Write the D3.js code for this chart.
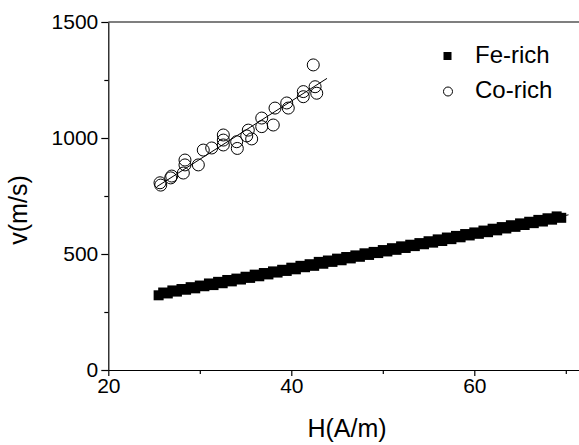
<!DOCTYPE html>
<html>
<head>
<meta charset="utf-8">
<script src="https://cdn.jsdelivr.net/npm/d3@7"></script>
<style>
  body { margin: 0; background: #fff; }
  text { font-family: "Liberation Sans", Arial, sans-serif; fill: #000; }
</style>
</head>
<body>
<div id="chart"></div>
<script>
// Fe-rich samples (H in A/m, v in m/s)
var feH = [25.5, 26.0, 26.5, 27.0, 27.5, 28.0, 28.5, 29.0, 29.5, 30.0,
           30.5, 31.0, 31.5, 32.0, 32.5, 33.0, 33.5, 34.0, 34.5, 35.0,
           35.5, 36.0, 36.5, 37.0, 37.5, 38.0, 38.5, 39.0, 39.5, 40.0,
           40.5, 41.0, 41.5, 42.0, 42.5, 43.0, 43.5, 44.0, 44.5, 45.0,
           45.5, 46.0, 46.5, 47.0, 47.5, 48.0, 48.5, 49.0, 49.5, 50.0,
           50.5, 51.0, 51.5, 52.0, 52.5, 53.0, 53.5, 54.0, 54.5, 55.0,
           55.5, 56.0, 56.5, 57.0, 57.5, 58.0, 58.5, 59.0, 59.5, 60.0,
           60.5, 61.0, 61.5, 62.0, 62.5, 63.0, 63.5, 64.0, 64.5, 65.0,
           65.5, 66.0, 66.5, 67.0, 67.5, 68.0, 68.5, 69.0, 69.5];
var feV = [322, 334, 330, 343, 338, 349, 346, 357, 352, 364,
           361, 373, 366, 380, 374, 388, 382, 394, 390, 402,
           397, 411, 404, 418, 412, 425, 420, 432, 427, 441,
           434, 449, 443, 456, 449, 466, 458, 472, 466, 480,
           473, 487, 481, 494, 488, 503, 496, 509, 504, 517,
           511, 525, 518, 533, 526, 540, 534, 547, 542, 555,
           549, 563, 556, 571, 564, 578, 572, 586, 580, 593,
           587, 601, 594, 609, 602, 616, 610, 624, 617, 632,
           625, 639, 633, 647, 640, 654, 648, 662, 656];

// Co-rich samples
var coH = [25.65, 25.73, 26.93, 26.82, 28.38, 28.38, 28.2, 29.84, 30.38, 31.3,
           32.57, 32.57, 32.57, 34.03, 34.1, 35.3, 35.67, 35.13, 36.77, 36.77,
           38.03, 38.22, 39.5, 39.67, 41.31, 41.31, 42.6, 42.78, 42.4];
var coV = [807, 797, 836, 828, 905, 884, 849, 884, 948, 957,
           1013, 991, 970, 984, 955, 1034, 996, 1009, 1086, 1049,
           1056, 1129, 1151, 1129, 1200, 1178, 1221, 1193, 1315];

// linear fits: [intercept, slope, xStart, xEnd]
var feFit = [131, 7.65, 25.0, 70.3];
var coFit = [155, 25.1, 25.3, 43.9];

var xTicks = [20, 40, 60];
var xMinor = [30, 50, 70];
var yTicks = [0, 500, 1000, 1500];
var yMinor = [250, 750, 1250];
var legendLabels = ["Fe-rich", "Co-rich"];

var W = 579, H = 445;
var mLeft = 108.3, mTop = 22, mBottom = 370;

var svg = d3.select("#chart")
  .append("svg")
    .attr("width", W)
    .attr("height", H);

var x = d3.scaleLinear()
  .domain([20, 72])
  .range([mLeft, mLeft + 52 * 9.15]);

var y = d3.scaleLinear()
  .domain([0, 1500])
  .range([mBottom, mTop]);

// X axis (major + minor ticks)
var gx = svg.append("g")
  .attr("transform", "translate(0," + mBottom + ")")
  .call(d3.axisBottom(x).tickValues(xTicks).tickSize(6).tickSizeOuter(0).tickPadding(2));
gx.append("g")
  .call(d3.axisBottom(x).tickValues(xMinor).tickSize(4).tickFormat(""))
  .select(".domain").remove();

// Y axis
var gy = svg.append("g")
  .attr("transform", "translate(" + mLeft + ",0)")
  .call(d3.axisLeft(y).tickValues(yTicks).tickFormat(d3.format("d"))
    .tickSize(7).tickSizeOuter(0).tickPadding(3));
gy.append("g")
  .call(d3.axisLeft(y).tickValues(yMinor).tickSize(4).tickFormat(""))
  .select(".domain").remove();

svg.selectAll(".tick text")
  .style("font-size", "21px")
  .style("font-family", '"Liberation Sans", Arial, sans-serif');
svg.selectAll(".domain, .tick line").attr("stroke", "#000").attr("stroke-width", 1.2);

// top frame line
svg.append("line")
  .attr("x1", mLeft).attr("x2", W)
  .attr("y1", mTop).attr("y2", mTop)
  .attr("stroke", "#000").attr("stroke-width", 1.2);

// axis titles
svg.append("text")
  .attr("x", 347).attr("y", 437)
  .attr("text-anchor", "middle")
  .style("font-size", "25px")
  .text("H(A/m)");

svg.append("text")
  .attr("transform", "translate(27,210) rotate(-90)")
  .attr("text-anchor", "middle")
  .style("font-size", "25px")
  .text("v(m/s)");

// fit lines
function fitLine(f) {
  return [[f[2], f[0] + f[1] * f[2]], [f[3], f[0] + f[1] * f[3]]];
}
var line = d3.line()
  .x(function(d) { return x(d[0]); })
  .y(function(d) { return y(d[1]); });

[feFit, coFit].forEach(function(f) {
  svg.append("path")
    .attr("d", line(fitLine(f)))
    .attr("fill", "none")
    .attr("stroke", "#000")
    .attr("stroke-width", 1);
});

// Fe-rich squares
var sq = 10;
svg.append("g").selectAll("rect")
  .data(feH)
  .enter()
  .append("rect")
    .attr("x", function(d) { return x(d) - sq / 2; })
    .attr("y", function(d, i) { return y(feV[i]) - sq / 2; })
    .attr("width", sq)
    .attr("height", sq)
    .attr("fill", "#000");

// Co-rich circles
svg.append("g").selectAll("circle")
  .data(coH)
  .enter()
  .append("circle")
    .attr("cx", function(d) { return x(d); })
    .attr("cy", function(d, i) { return y(coV[i]); })
    .attr("r", 6)
    .attr("fill", "none")
    .attr("stroke", "#000")
    .attr("stroke-width", 1);

// legend
var lg = svg.append("g");
lg.append("rect")
  .attr("x", 443.5).attr("y", 52)
  .attr("width", 8).attr("height", 8)
  .attr("fill", "#000");
lg.append("circle")
  .attr("cx", 448).attr("cy", 91.5).attr("r", 4.5)
  .attr("fill", "none").attr("stroke", "#000");
lg.selectAll("text")
  .data(legendLabels)
  .enter()
  .append("text")
    .attr("x", 475)
    .attr("y", function(d, i) { return 63 + i * 35; })
    .style("font-size", "24px")
    .text(function(d) { return d; });
</script>
</body>
</html>
